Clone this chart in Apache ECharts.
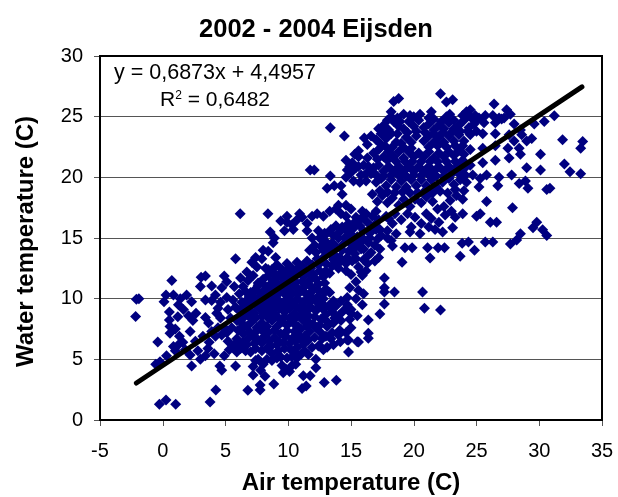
<!DOCTYPE html>
<html><head><meta charset="utf-8">
<script src="https://cdn.jsdelivr.net/npm/echarts@6/dist/echarts.min.js"></script>
<style>html,body{margin:0;padding:0;background:#fff}#c{width:618px;height:497px}</style>
</head><body><div id="c"></div>
<script>
const titleText = "2002 - 2004 Eijsden";
const xName = "Air temperature (C)";
const yName = "Water temperature (C)";
const equationText = "y = 0,6873x + 4,4957";
const trendLine = [[-2.1,3.05],[33.4,27.45]];
const outliers = [
[-2.16,8.54],[-2.1,9.95],[-1.9,10],[-0.4,6.43],[-0.56,4.6],[-0.22,4.8],[-0.27,1.3],[0.26,1.65],[1.03,1.3],[3.77,1.48],[4.23,2.47],
[6.78,2.45],[7.76,2.88],[7.76,2.47],[8.85,2.97],[11.1,2.6],[11.43,2.8],[12.87,3.1],[13.83,3.27],[0.72,11.5],[3.06,11.76],[3.4,11.87],[4.9,11.87],
[6.17,16.99],[8.38,16.99],[8.56,15.5],[13.35,24.08],[14.47,23.4],[11.75,20.6],[12.07,20.6],[13.35,20.1],[13.1,19.1],[13.67,19.3],
[22.13,26.88],[18.4,26.25],[18.8,26.5],[22.6,26.2],[23.1,26.4],[26.4,26.05],[24.5,25.56],[22.87,25.2],[27.4,25.56],[27.7,25.2],[31.2,25.07],[30.4,24.6],[29.6,24.4],
[31.86,23.1],[33.46,22.95],[33.3,22.4],[30.1,21.9],[32,21.1],[32.45,20.45],[33.3,20.3],[30.1,20.6],[29,20.8],[30.85,19.1],[30.6,19],[27.87,17.5],[25.8,18],[23.9,17],[25,16.8],[25.3,17],
[26.1,16.3],[26.6,16.3],[29.8,16.3],[29.5,15.85],[30.27,15.67],[30.6,15.2],[28.5,15.35],[23.1,15.85],[18.6,15.35],[19.7,15.5],[20.5,15.35],[16.06,23.25],
[18.3,14.34],[19.3,14.2],[19.87,14.2],[19.07,13],[21.1,14.2],[21.3,13.35],[21.94,14.2],[22.45,14.2],[23.7,13.5],[23.86,14.56],[24.36,14.67],[24.84,14],[25.7,14.67],[26.3,14.67],[27.7,14.5],[28.2,14.84],
[17.66,11.7],[17.66,10.9],[17.66,10.55],[18.46,10.55],[20.7,10.55],[20.85,9.2],[22.13,9.07],[17.66,9.56],[17.3,8.74],[16.38,8.24],[16.38,7.15],[16.38,6.73],[15.6,6.43],[14.8,6.6],[14.8,5.6]
];
const leftCluster = [
[0.1,9.75],[0.26,10.3],[0.85,10.3],[1.4,10],[1.25,9.5],[1.65,9.1],[2.3,9.75],[2.05,8.6],[2.65,8.8],[0.53,8.9],[0.53,8.25],[0.58,7.7],[0.58,7.15],[1.33,6.9],[2.18,7.3],[0.85,6.05],[1.25,6.2],[0.3,5.3],[2.18,5.35],[2.3,4.45],[3.4,5.3],[3,5],[4.1,5.45],[4.9,5.3],[4.55,4.45],[4.7,4.1],[5.8,4.45],[3,11],[3.9,11.05],[4.7,10.9],[5.7,11],[6.2,11.7],[3.4,9.9],[3.9,9.85],[3.4,8.45],[3.65,8],[4.3,8.8],[5.8,13.3],[7.1,13],[8,14],
[1.0,5.7],[1.6,6.4],[2.6,6.5],[3.2,6.9],[3.7,6.4],[4.2,6.9],[4.7,7],[5.2,6.5],[5.7,6.2],[4.9,7.6],[3.9,7.3],[4.6,8.4],[5.2,9.1],[5.6,9.9],[6.1,10.4],[4.6,9.7],[5.1,10.1],[6.4,11],[6.8,11.5],[7.2,11.9],[7.5,12.6],[7.9,13.3],[8.4,13.9],[8.8,14.6],
[4.4,9.2],[5.4,8.4],[5.5,7.6],[5.1,7.2],[4.4,7.6],[5.8,9.3],[6.2,8.5],[6.9,10.2],[7.6,11.1],[8.2,12.5],[5.9,5.6],[5.3,5.8],[6.4,6.4],[3.6,5.9],[2.8,5.7],[1.8,5.8],[6.7,12.2],[7.4,13.4],[5.1,11.4],[6.6,10.6],[4.2,10.3],[1.9,10.3],[2.4,8.2],[1.2,8.5],[1.0,7.5]
];
const lowerCluster = [
[7.2,4.4],[7.6,5],[8.3,5],[7.2,3.7],[8.15,3.6],[9.5,4.5],[9.9,5.1],[10.7,5.1],[11.2,3.65],[11.75,3.65],[12.2,5],[12.2,4.3],[11.9,6],[12.7,6.7],[13.1,6],[13.6,6.2],[14.15,6.45],[14.7,6.6],[15.5,6.45],
[7.8,4.1],[8.0,4.6],[9.6,3.9],[9.8,4.2],[10.1,4.0],[10.3,4.5],[10.6,4.6],[11.0,5.4],[5.9,6.7],[6.2,5.9],[6.6,5.7],[7.0,5.6],[7.4,5.9],[7.9,5.7],[8.3,5.9],[8.7,5.5],[9.2,5.7],[9.7,5.9],[10.2,5.8],[10.7,6],[11.2,6.2],
[6.0,7.4],[6.4,7.1],[6.8,6.7],[7.2,6.9],[7.6,6.6],[8.1,6.9],[8.5,6.5],[8.9,6.8],[9.3,6.4],[9.8,6.9],[10.3,6.7],[10.8,7],[11.3,6.9],[11.7,7.3],[12.2,7.6],[12.6,7.2],[13.1,7.7],[13.6,8],[14.1,7.4],
[5.9,8.2],[6.3,8],[6.7,7.7],[7.1,8.1],[7.5,7.6],[7.9,8],[8.3,7.7],[8.7,8.2],[9.1,7.7],[9.5,8.1],[9.9,7.8],[10.4,8],[10.8,7.7],[11.2,8.2],[11.7,8],[12.1,8.5],[12.6,8.3],[13,8.7],[13.5,8.9],[14,8.6],[14.4,9],[15,9.1],
[6.1,9],[6.5,8.7],[6.9,9.1],[7.3,8.8],[7.7,9.2],[8.1,8.8],[8.5,9.1],[8.9,8.8],[9.3,9.2],[9.7,8.9],[10.1,9.2],[10.5,8.8],[11,9.1],[11.4,8.9],[11.8,9.3],[12.3,9.2],[12.7,9.6],[13.2,9.4],[13.6,9.8],[14.2,9.8],[14.7,10.1],
[6.3,9.7],[6.7,9.9],[7.1,9.5],[7.5,9.9],[7.9,9.6],[8.3,10],[8.7,9.7],[9.1,10],[9.5,9.6],[9.9,10],[10.3,9.7],[10.7,10],[11.1,9.7],[11.5,10],[11.9,10.1],[12.4,10.2],[12.9,10.5],[14.9,10.9],[15.6,10.7],[16,10.4],
[7,10.5],[7.4,10.8],[7.8,10.4],[8.2,10.8],[8.6,10.6],[9,11],[9.4,10.6],[9.8,10.9],[10.2,10.6],[10.6,11],[11,10.7],[11.4,11.1],[11.9,10.9],[12.4,11.2],[12.9,11.3],[15,12],[15.4,11.4],[15.9,11.9],[16.2,12.3],
[8,11.6],[8.4,11.9],[8.8,11.5],[9.2,11.9],[9.6,11.6],[10,12],[10.4,11.7],[10.8,12.1],[11.2,11.8],[11.6,12.2],[12,12],[12.5,12.3],[13,12.3],[13.5,12.7],[14,12.5],[14.6,12.9],[15.1,13.1],[15.6,12.6],[16,13.2],[16.4,13.6],
[8.7,12.4],[9.1,12.8],[9.5,12.4],[9.9,12.9],[10.3,12.5],[10.7,13],[11.1,12.7],[11.5,13.1],[11.9,12.8],[12.3,13.3],[12.8,13.4],[13.3,13.7],[13.8,13.5],[14.3,14],[14.8,13.9],[15.3,14.2],[15.8,14.1],[16.4,14.6],[16.9,14.4],[17.3,14.1],
[11.7,14],[12.1,14.4],[12.6,14.3],[13,14.7],[13.5,14.6],[14,15],[14.5,15],[15,15.3],[15.5,15.1],[16,15.6],[16.5,15.4],[17,15.7],[17.4,15.2],[17.9,15],[18.2,14.8],
[11.9,15],[12.4,15.6],[12.9,15.4],[13.4,15.7],[13.8,16],[14.3,15.9],[14.8,16.2],[15.3,16.3],[15.8,16.6],[16.3,16.3],[16.7,16.8],[17.2,16.5],
[9.9,16.3],[10.3,16.1],[10.7,16.5],[11.1,16.7],[11.5,16.2],[11.9,16.8],[12.3,17],[12.8,16.8],[13.3,17.2],[13.8,17.4],[14.2,17],[14.6,17.7],[15,17.4],
[10.4,15.7],[10.9,17],[9.9,16.8],[9.4,16.4],[9.7,15.6],[9,13.4],[8.9,15],[11.5,15.6]
];
const lowerFill = [
[6.1,6.3],[6.7,6.2],[7.3,6.3],[7.9,6.35],[8.6,6.05],[9.1,6.2],[9.6,6.4],[10.1,6.3],[10.6,6.5],[11.1,6.55],[11.6,6.6],[12.1,6.8],
[6.3,7.6],[6.9,7.3],[7.4,7.25],[7.9,7.4],[8.4,7.2],[8.9,7.4],[9.4,7.1],[9.9,7.35],[10.5,7.3],[11,7.5],[11.5,7.7],[12,7.9],[12.5,7.8],[13,8.2],[13.7,8.4],
[6.4,8.4],[6.9,8.5],[7.4,8.4],[7.9,8.55],[8.4,8.4],[8.8,8.55],[9.2,8.45],[9.7,8.5],[10.1,8.4],[10.6,8.4],[11,8.6],[11.6,8.6],[12.2,9],[12.8,9.1],[13.4,9.4],
[6.5,9.4],[7,9.5],[7.5,9.45],[8,9.3],[8.5,9.5],[9,9.4],[9.6,9.3],[10,9.6],[10.6,9.4],[11.2,9.4],[11.7,9.7],[12.2,9.8],[12.8,10],
[7.2,10.2],[7.7,10],[8.2,10.3],[8.7,10.2],[9.2,10.4],[9.7,10.4],[10.2,10.3],[10.8,10.4],[11.3,10.5],[11.8,10.5],[12.4,10.7],[13,10.8],[13.3,10.5],
[7.6,11.3],[8.1,11.1],[8.6,11.2],[9.1,11.3],[9.6,11.2],[10.1,11.3],[10.6,11.4],[11.1,11.4],[11.7,11.5],[12.2,11.6],[12.8,11.8],[13.3,12.1],
[8.4,12.4],[8.9,12.1],[9.4,12],[9.8,12.3],[10.3,12.2],[10.8,12.5],[11.3,12.4],[11.8,12.5],[12.4,12.8],[13,12.9],[13.6,13.2],[14.1,13.4],[14.7,13.4],[15.3,13.7],
[12.2,13.8],[12.8,14],[13.3,14.2],[13.8,14.3],[14.4,14.5],[14.9,14.6],[15.4,14.7],[16,14.9],[16.5,15],[12.5,15],[13,15.3],[13.6,15.2],[14.1,15.5],[14.7,15.6],[15.2,15.8],[15.7,16],
[7.4,4.9],[8.7,4.9],[9.1,5.1],[9.4,5.2],[10.3,5.2],[11.3,5.7],[10.6,5.5],[12.5,6.1],[13.4,6.7],[14,7],[14.6,7.2],[15,8.8]
];
const upperCluster = [
[16.7,18.6],[17.1,18],[17.5,18.5],[17.9,17.9],[18.3,18.3],[18.8,17.7],[19.2,18.2],[19.7,17.6],[20.1,18.2],[20.6,17.9],[21,18.4],[21.5,18],[21.9,17.4],[22.4,17.6],[22.9,18.1],[23.4,18.5],[23.9,18.2],
[14.2,19.3],[14.6,20],[15,20.4],[15.4,20.8],[15.8,20.2],[16.2,19.7],[16.6,20.3],[17,19.6],[17.4,19.9],[17.8,19.3],[18.2,19.8],[18.6,19.2],[19,19.7],[19.4,19.2],[19.8,19.8],[20.2,19.3],[20.6,19.8],[21,19.3],[21.4,19.8],[21.8,19.2],[22.3,19.6],[22.8,19.9],[23.2,19.4],[23.7,19.8],[24.2,19.6],[24.7,20.2],[25.3,19.9],[25.8,20.2],[26.8,20],[27.8,20.2],[28.9,19.7],[28.4,19.5],[29.1,19.1],
[15.1,21.2],[15.6,21.7],[16,21],[16.4,20.9],[16.8,20.8],[17.2,21],[17.6,20.5],[18,20.9],[18.4,20.5],[18.8,20.9],[19.2,20.5],[19.6,20.9],[20,20.5],[20.4,20.9],[20.8,20.5],[21.2,20.9],[21.6,20.5],[22,20.9],[22.4,20.5],[22.8,20.9],[23.2,20.6],[23.6,20.9],[24,20.7],[24.5,21],[25.5,21.2],[26.5,21.4],[27.6,21.6],[28.5,21.9],
[16.8,22],[17.2,22.3],[17.6,21.7],[18,22.1],[18.4,21.7],[18.8,22.1],[19.2,21.6],[19.6,22.1],[20,21.7],[20.4,22],[20.8,21.7],[21.2,22.1],[21.6,21.6],[22,22],[22.4,21.7],[22.8,22.1],[23.2,21.8],[23.6,22.2],[24,21.9],[24.5,22.3],[25.5,22.4],[26.5,22.6],[27.5,22.4],[28,23],[28.4,22.4],[29,23],[29.4,23.2],
[17,23.1],[17.4,23.6],[17.8,23.2],[18.2,23.6],[18.6,22.9],[19,22.8],[19.4,23.3],[19.8,22.9],[20.2,23.4],[20.8,23],[21.2,23.4],[21.6,22.9],[22,23.3],[22.4,22.9],[22.8,23.4],[23.2,23],[23.6,23.5],[24,23],[24.5,23.5],[25.5,23.6],[26.5,23.6],[27.6,23.5],[28.6,23.5],
[17.2,24],[17.6,24.3],[18,23.9],[18.4,24.6],[18.8,24.2],[19.2,24],[19.6,24.6],[20,24.2],[20.4,24.7],[20.8,24.1],[21.2,24.4],[21.6,23.9],[22,24.3],[22.4,24],[22.8,24.5],[23.2,24],[23.6,24.3],[24,24.7],[24.4,24.1],[24.8,24.4],[25.2,24.9],[25.6,24.5],[26.5,24.5],[27,24.8],[28,24.4],[28.5,23.9],
[18.2,25],[19.2,25.2],[20,25],[21.2,24.9],[22.6,25],[23.9,25.1],[24.9,25.1],[25.1,24.8],[26.3,25.1],[26.8,24.9],[18.7,24.9],
[15.6,22.2],[15.3,21.9],[16.3,22.7],[16.6,23.4],[14.9,20.9],[14.6,21.4],[16.3,21.6],[17.4,22.7],[14,17.7],[14.3,18.6],[15.9,17.2],[17,17.2],[17.8,16.8],[18.5,17],[19,16.5],[19.5,17],[20.1,16.7],[20.6,16.2],[21,17],[21.4,16.6],[22,16.3],[22.5,16.9],[23,17.2],[23.3,16.7],[18.3,16.2],[18,16.6],[19.8,15.9],[21.7,15.7],[22.3,15.5],[21.2,15.9]
];
const upperFill = [
[17.3,18.9],[17.9,18.8],[18.5,18.75],[19.1,18.8],[19.7,18.7],[20.3,18.75],[20.9,18.9],[21.5,18.7],[22.1,18.85],[22.7,18.7],[23.3,19],[24,18.9],[25.2,19.2],[26.7,19.3],
[15.2,19.7],[15.7,19.6],[16.2,20.3],[17,20.2],[17.6,20.1],[18.2,20.2],[18.8,20.15],[19.4,20.1],[20,20.2],[20.6,20.15],[21.2,20.2],[21.8,20.1],[22.4,20.1],[23,20.25],[23.6,20.3],[24.1,20.2],
[14.7,20.6],[15.6,20.9],[17.1,21.5],[17.9,21.4],[18.6,21.3],[19.3,21.3],[19.9,21.3],[20.6,21.3],[21.3,21.3],[21.9,21.3],[22.6,21.3],[23.3,21.3],[23.9,21.4],
[17.7,22.6],[18.3,22.5],[19.2,22.45],[19.8,22.4],[21.2,22.5],[21.9,22.6],[22.6,22.5],[23.3,22.6],[23.9,22.6],
[17.6,23.7],[18.7,23.6],[19.5,23.7],[20.2,23.8],[20.9,23.7],[21.6,23.6],[22.3,23.7],[23,23.7],[23.7,23.8],[24.3,23.8],[25,23.8],
[17.9,24.7],[18.9,24.6],[19.7,25.1],[20.5,25.2],[21.6,24.8],[22.2,24.6],[23.2,24.7],[24.2,25.2],[24.6,24.9],[25.7,25.1],[27.2,24.9],[18.2,25.4],[21.4,25.4],[24.2,25.4]
];
const rightLower = [
[15,14.9],[15.6,14.5],[16,14.1],[16.6,13.8],[16.9,13.1],[17.2,13.4],[16.3,12.9],[15.8,12.2],[14.6,12.3],[15.4,13.3],[14.2,13.1],[13.7,12.9],[15.4,10],[15.9,9.5],[14.7,9.5],[13.8,9.4],[14.2,8.2],[15.5,8.6],[14.9,8.3],[15,7.6],[13.5,7.2],[13,6.9],[12.4,6.1],[11.6,5.4],[12.8,5.8],[17.3,15.7],[17.9,15.6],[16.9,16.1],[16.2,17],[15.4,16.7],[14.6,16.8],[17.1,14.9]
];
const pts = [].concat(outliers, leftCluster, lowerCluster, lowerFill, upperCluster, upperFill, rightLower);
const chart = echarts.init(document.getElementById('c'), null, {renderer:'canvas'});
const font = "'Liberation Sans', Arial, sans-serif";
chart.setOption({
  animation:false,
  backgroundColor:'#fff',
  title:{text:titleText,left:311,top:12,textAlign:'center',textStyle:{fontFamily:font,fontSize:25.5,fontWeight:'bold',color:'#000'}},
  grid:{left:100,right:16,top:56,bottom:77,show:false,outerBoundsMode:'none'},
  xAxis:{type:'value',min:-5,max:35,interval:5,name:xName,nameLocation:'middle',nameGap:51,
    nameTextStyle:{fontFamily:font,fontSize:24,fontWeight:'bold',color:'#000'},
    axisLine:{show:true,onZero:false,lineStyle:{color:'#000',width:2}},
    axisTick:{show:true,length:6,inside:false,lineStyle:{color:'#555',width:1}},
    axisLabel:{fontFamily:font,fontSize:20,color:'#000',margin:21},splitLine:{show:false}},
  yAxis:{type:'value',min:0,max:30,interval:5,name:yName,nameLocation:'middle',nameGap:62,
    nameTextStyle:{fontFamily:font,fontSize:24,fontWeight:'bold',color:'#000',padding:[0,7,0,0]},
    axisLine:{show:true,onZero:false,lineStyle:{color:'#000',width:2}},
    axisTick:{show:true,length:6,inside:false,lineStyle:{color:'#555',width:1}},
    axisLabel:{fontFamily:font,fontSize:20,color:'#000',margin:17},
    splitLine:{show:true,lineStyle:{color:'#555',width:1}}},
  graphic:[
    {type:'rect',shape:{x:100,y:56,width:502,height:364},style:{fill:'none',stroke:'#000',lineWidth:2},silent:true,z:1},
    {type:'text',left:114,top:62,style:{text:equationText,fontFamily:font,fontSize:21.5,fill:'#000'},z:20},
    {type:'text',left:160,top:90,style:{text:'{a|R}{s|2}{a| = 0,6482}',rich:{a:{fontFamily:font,fontSize:21,fill:'#000',verticalAlign:'bottom'},s:{fontFamily:font,fontSize:12,fill:'#000',verticalAlign:'top',padding:[0,0,8,0]}}},z:20}
  ],
  series:[
    {type:'scatter',data:pts,symbol:'diamond',symbolSize:11,itemStyle:{color:'#000080',opacity:1},z:3,silent:true},
    {type:'line',data:trendLine,showSymbol:false,symbol:'none',lineStyle:{color:'#000',width:5,cap:'round'},z:5,silent:true}
  ]
});
</script></body></html>
